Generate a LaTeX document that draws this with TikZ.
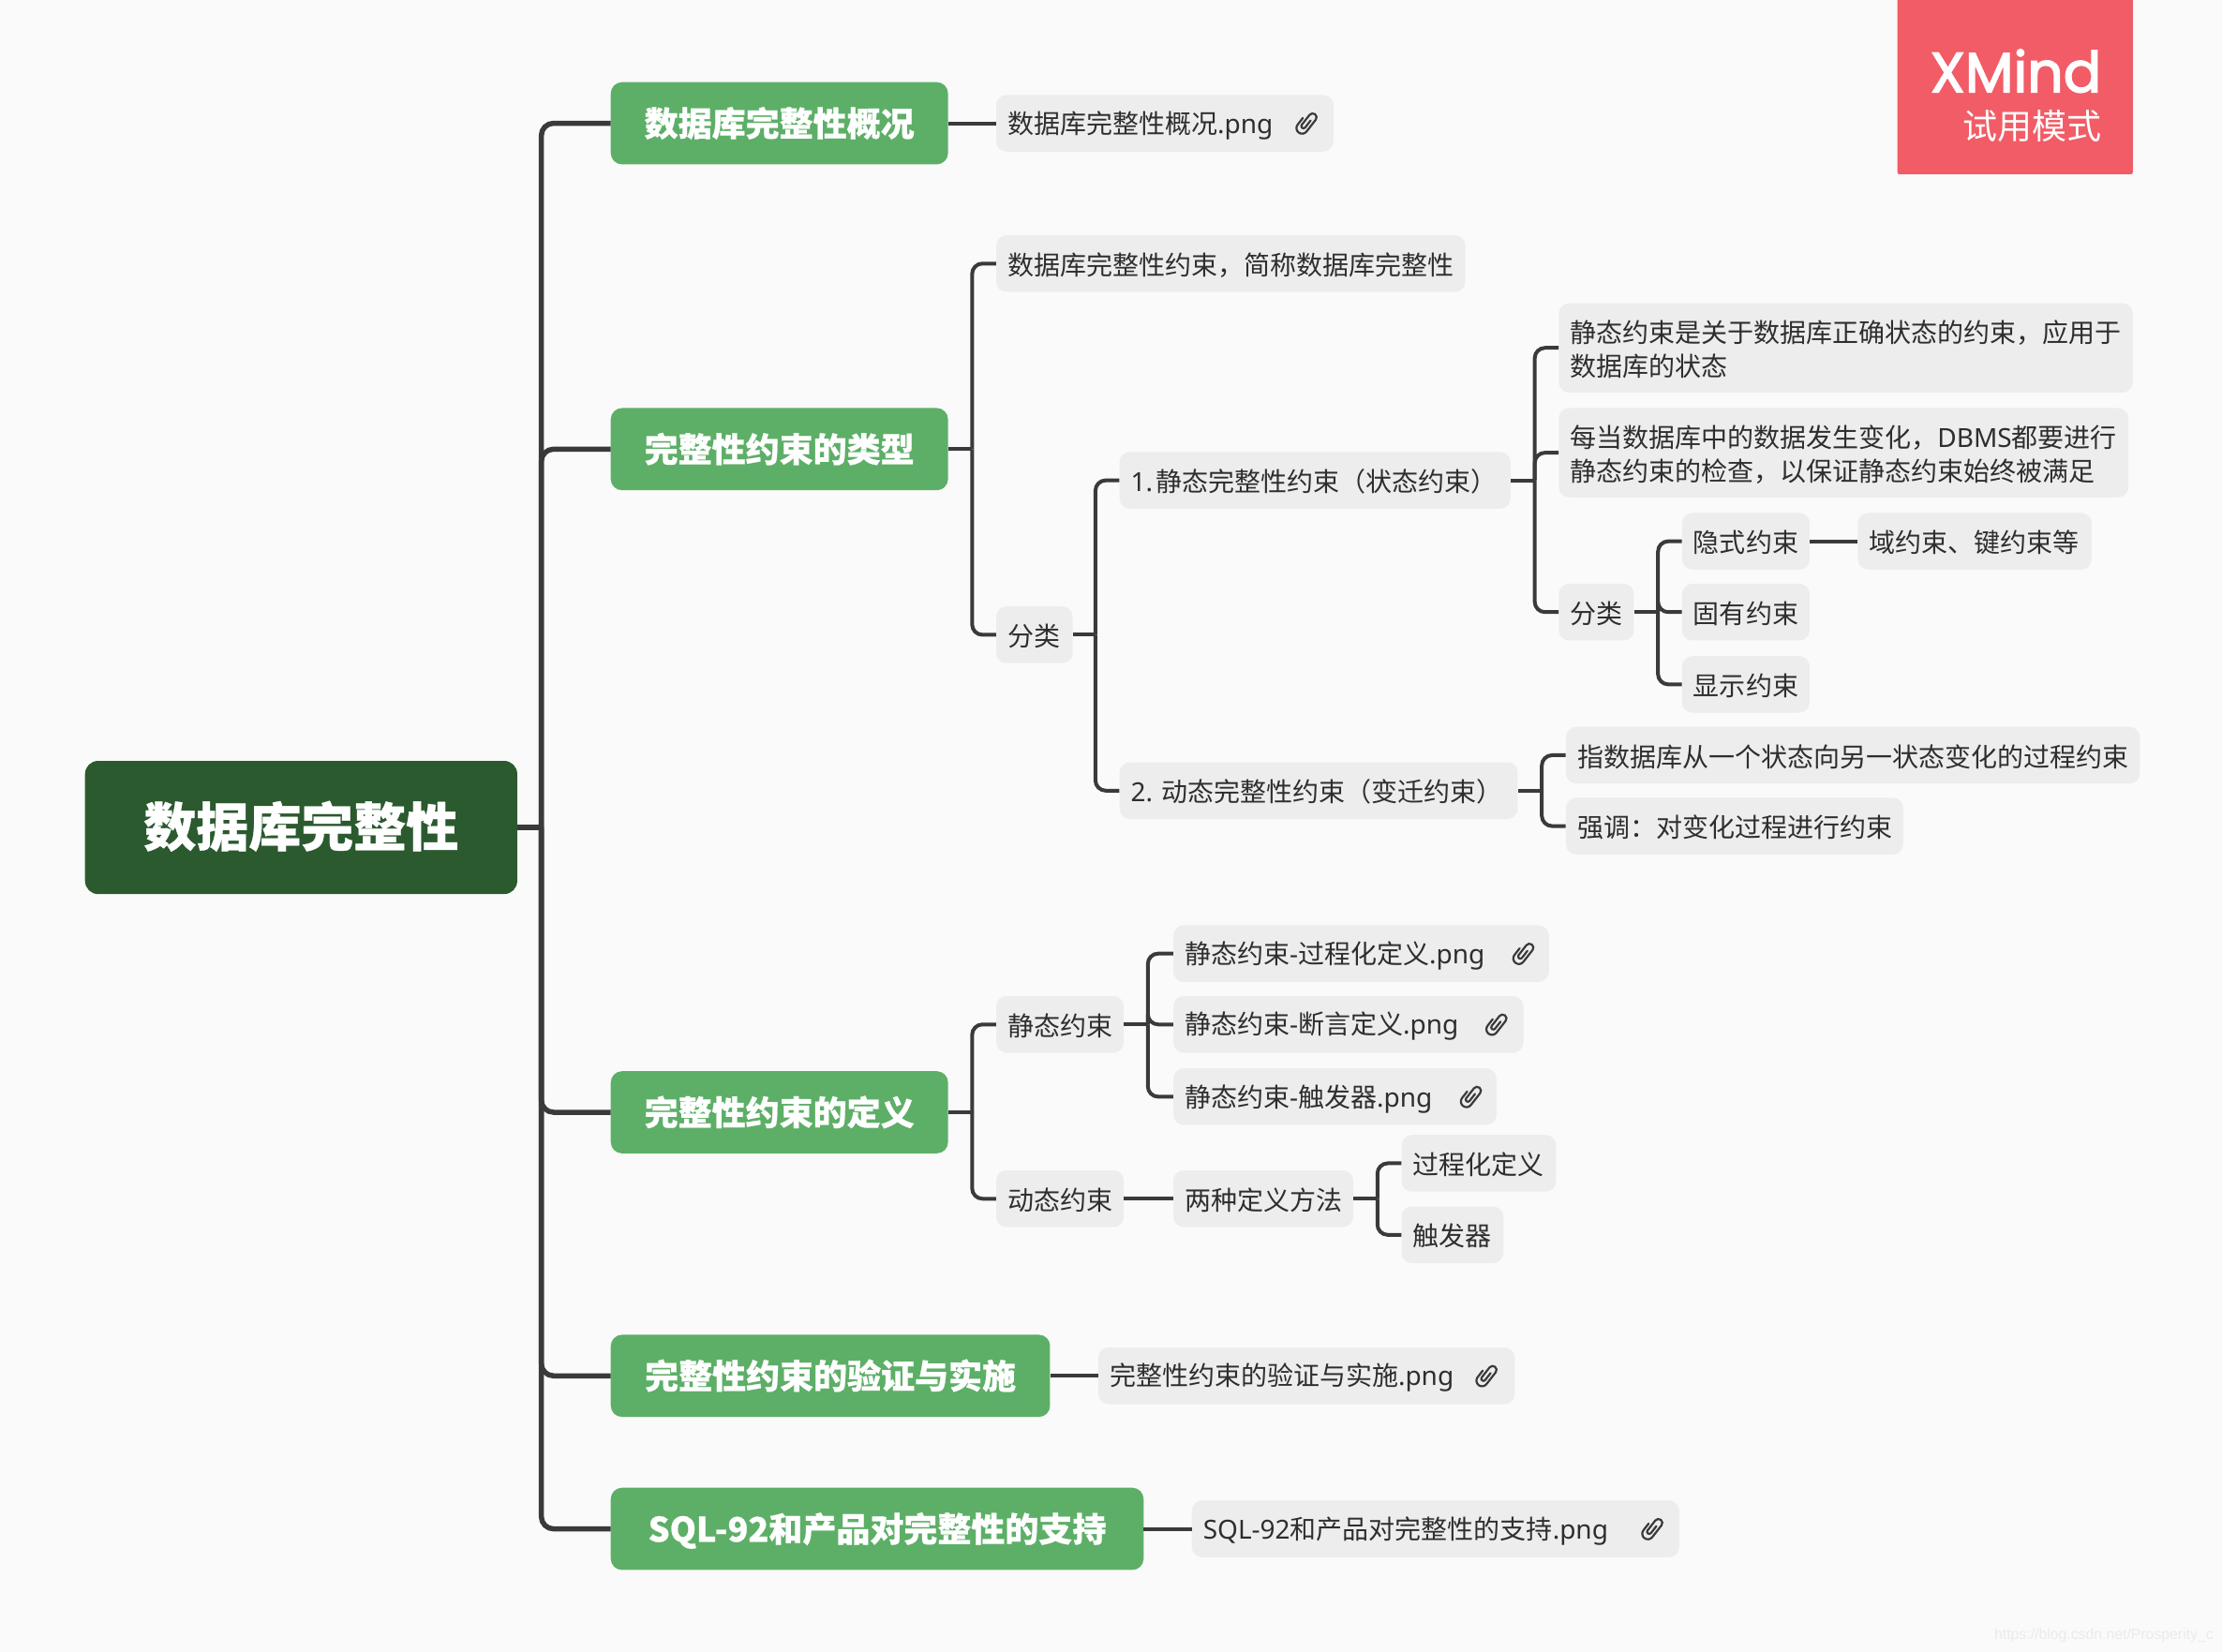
\documentclass[tikz,border=0pt]{standalone}
\usepackage{fontspec}
\setmainfont[BoldFeatures={FakeBold=0.6}]{Noto Sans CJK SC}
\newfontfamily\latinfont{Noto Sans}
\newfontfamily\xmfont[FakeBold=2.5]{Poppins}
\newfontfamily\wmfont{Liberation Sans}
\newcommand{\lt}[1]{{\latinfont #1}}
\def\dpx{1.5121pt}
\def\sd{.14em}
\def\mystrut{\vrule width 0pt height 1em depth \sd\relax}
\definecolor{bgc}{HTML}{FAFAFA}
\definecolor{greenc}{HTML}{5DAF67}
\definecolor{darkc}{HTML}{2B5A2F}
\definecolor{grayc}{HTML}{EDEDED}
\definecolor{linec}{HTML}{3A3A3A}
\definecolor{textc}{HTML}{2E2E2E}
\definecolor{redc}{HTML}{F25C66}
\definecolor{wmc}{HTML}{EBEBEB}
\tikzset{
  box/.style n args={5}{at={({(#1+#2)/2},{(#3+#4)/2})},
    minimum height={(#4-#3)*\dpx},
    text width={(#2-#1-2*#5)*\dpx},
    inner xsep={#5*\dpx}, inner ysep=0pt,
    execute at begin node=\mystrut, execute at end node=\mystrut},
  sub/.style={fill=grayc, rounded corners=11pt, text=textc, align=left,
    font=\fontsize{28}{36}\selectfont},
  topic/.style={fill=greenc, rounded corners=12pt, text=white, align=center,
    font=\fontsize{36}{44}\selectfont\bfseries\def\sd{.24em}},
  rootbox/.style={fill=darkc, rounded corners=14pt, text=white, align=center,
    font=\fontsize{56}{66}\selectfont\bfseries\def\sd{.28em}},
  conn/.style={draw=linec, line width=4pt, rounded corners=11pt},
  trunk/.style={draw=linec, line width=5.5pt, rounded corners=13pt},
  clipicon/.pic={\draw[x=1pt,y=1pt,rotate=-38,draw=linec,line width=2.2pt,line cap=round]
    (1.6,5) -- (1.6,-4.5) arc[start angle=360,end angle=180,radius=2.3]
    -- (-3,9) arc[start angle=180,end angle=0,radius=4.2]
    -- (5.4,-7) arc[start angle=360,end angle=180,radius=6]
    -- (-6.6,2);}
}
\begin{document}
\begin{tikzpicture}[x=\dpx,y=-\dpx]
\useasboundingbox (0,0) rectangle (1568,1165.9);
\fill[bgc] (0,0) rectangle (1568,1165.9);
% trial-mode badge
\fill[redc,rounded corners=2pt] (1339,-8) rectangle (1505,123);
\node[anchor=base east,text=white,inner sep=0pt,font=\xmfont\fontsize{60}{62}\selectfont] (xm) at (1483,65) {XMind};
\node[anchor=base east,text=white,inner sep=0pt,font=\fontsize{37}{40}\selectfont] (try) at (1483,98) {试用模式};
% nodes
\node[rootbox,box={60}{365}{537}{631}{20}] (root) {数据库完整性};
\node[topic,box={431}{669}{58}{116}{10}] (t1) {数据库完整性概况};
\node[topic,box={431}{669}{288}{346}{10}] (t2) {完整性约束的类型};
\node[topic,box={431}{669}{756}{814}{10}] (t3) {完整性约束的定义};
\node[topic,box={431}{741}{942}{1000}{10}] (t4) {完整性约束的验证与实施};
\node[topic,box={431}{807}{1050}{1108}{10}] (t5) {SQL-92和产品对完整性的支持};
\node[sub,box={703}{941}{67}{107}{8}] (a1) {数据库完整性概况\lt{.png}};
\node[sub,box={703}{1034}{166}{206}{8}] (a2) {数据库完整性约束，简称数据库完整性};
\node[sub,box={703}{757}{428}{468}{8}] (a3) {分类};
\node[sub,box={790}{1066}{319}{359}{8}] (b1) {\mbox{\lt{1.}\hspace{3pt}静态完整性约束（状态约束）}};
\node[sub,box={790}{1071}{538}{578}{8}] (b2) {\mbox{\lt{2.}\hspace{9pt}动态完整性约束（变迁约束）}};
\node[sub,box={1100}{1505}{214}{277}{8}] (c1) {静态约束是关于数据库正确状态的约束，应用于\\数据库的状态};
\node[sub,box={1100}{1502}{288}{351}{8}] (c2) {每当数据库中的数据发生变化，\lt{DBMS}都要进行\\静态约束的检查，以保证静态约束始终被满足};
\node[sub,box={1100}{1153}{412}{452}{8}] (c3) {分类};
\node[sub,box={1187}{1277}{362}{402}{8}] (d1) {隐式约束};
\node[sub,box={1187}{1277}{412}{452}{8}] (d2) {固有约束};
\node[sub,box={1187}{1277}{463}{503}{8}] (d3) {显示约束};
\node[sub,box={1311}{1476}{362}{402}{8}] (e1) {域约束、键约束等};
\node[sub,box={1105}{1510}{513}{553}{8}] (f1) {指数据库从一个状态向另一状态变化的过程约束};
\node[sub,box={1105}{1343}{563}{603}{8}] (f2) {强调：对变化过程进行约束};
\node[sub,box={703}{793}{703}{743}{8}] (g1) {静态约束};
\node[sub,box={703}{793}{826}{866}{8}] (g2) {动态约束};
\node[sub,box={828}{1093}{653}{693}{8}] (h1) {静态约束\lt{-}过程化定义\lt{.png}};
\node[sub,box={828}{1075}{703}{743}{8}] (h2) {静态约束\lt{-}断言定义\lt{.png}};
\node[sub,box={828}{1056}{754}{794}{8}] (h3) {静态约束\lt{-}触发器\lt{.png}};
\node[sub,box={828}{955}{826}{866}{8}] (i1) {两种定义方法};
\node[sub,box={989}{1098}{801}{841}{8}] (j1) {过程化定义};
\node[sub,box={989}{1061}{851.5}{891.5}{8}] (j2) {触发器};
\node[sub,box={775}{1069}{951}{991}{8}] (k1) {完整性约束的验证与实施\lt{.png}};
\node[sub,box={841}{1185}{1059}{1099}{8}] (k2) {\lt{SQL-92}和产品对完整性的支持\lt{.png}};
% attachment icons
\pic at (922,87) {clipicon};
\pic at (1075,673) {clipicon};
\pic at (1056,723) {clipicon};
\pic at (1038,774) {clipicon};
\pic at (1049,971) {clipicon};
\pic at (1166,1079) {clipicon};
% junctions
\coordinate (jroot) at (382,584);
\coordinate (jt2) at (686,317);
\coordinate (ja3) at (773,448);
\coordinate (jb1) at (1083,339);
\coordinate (jc3) at (1170,432);
\coordinate (jb2) at (1088,558);
\coordinate (jt3) at (686,785);
\coordinate (jg1) at (810,723);
\coordinate (ji1) at (972,846);
% connectors
\draw[trunk] (root.east) -- (jroot);
\foreach \c in {t1,t2,t3,t4,t5} \draw[trunk] (jroot) |- (\c.west);
\draw[conn] (t1.east) -- (a1.west);
\draw[conn] (t4.east) -- (k1.west);
\draw[conn] (t5.east) -- (k2.west);
\draw[conn] (t2.east) -- (jt2);
\foreach \c in {a2,a3} \draw[conn] (jt2) |- (\c.west);
\draw[conn] (a3.east) -- (ja3);
\foreach \c in {b1,b2} \draw[conn] (ja3) |- (\c.west);
\draw[conn] (b1.east) -- (jb1);
\foreach \c in {c1,c2,c3} \draw[conn] (jb1) |- (\c.west);
\draw[conn] (c3.east) -- (jc3);
\foreach \c in {d1,d2,d3} \draw[conn] (jc3) |- (\c.west);
\draw[conn] (d1.east) -- (e1.west);
\draw[conn] (b2.east) -- (jb2);
\foreach \c in {f1,f2} \draw[conn] (jb2) |- (\c.west);
\draw[conn] (t3.east) -- (jt3);
\foreach \c in {g1,g2} \draw[conn] (jt3) |- (\c.west);
\draw[conn] (g1.east) -- (jg1);
\foreach \c in {h1,h2,h3} \draw[conn] (jg1) |- (\c.west);
\draw[conn] (g2.east) -- (i1.west);
\draw[conn] (i1.east) -- (ji1);
\foreach \c in {j1,j2} \draw[conn] (ji1) |- (\c.west);
% watermark
\node[anchor=east,text=wmc,inner sep=0pt,font=\wmfont\fontsize{15.8}{20}\selectfont] (wm) at (1562,1154) {https://blog.csdn.net/Prosperity\_c};
\end{tikzpicture}
\end{document}
